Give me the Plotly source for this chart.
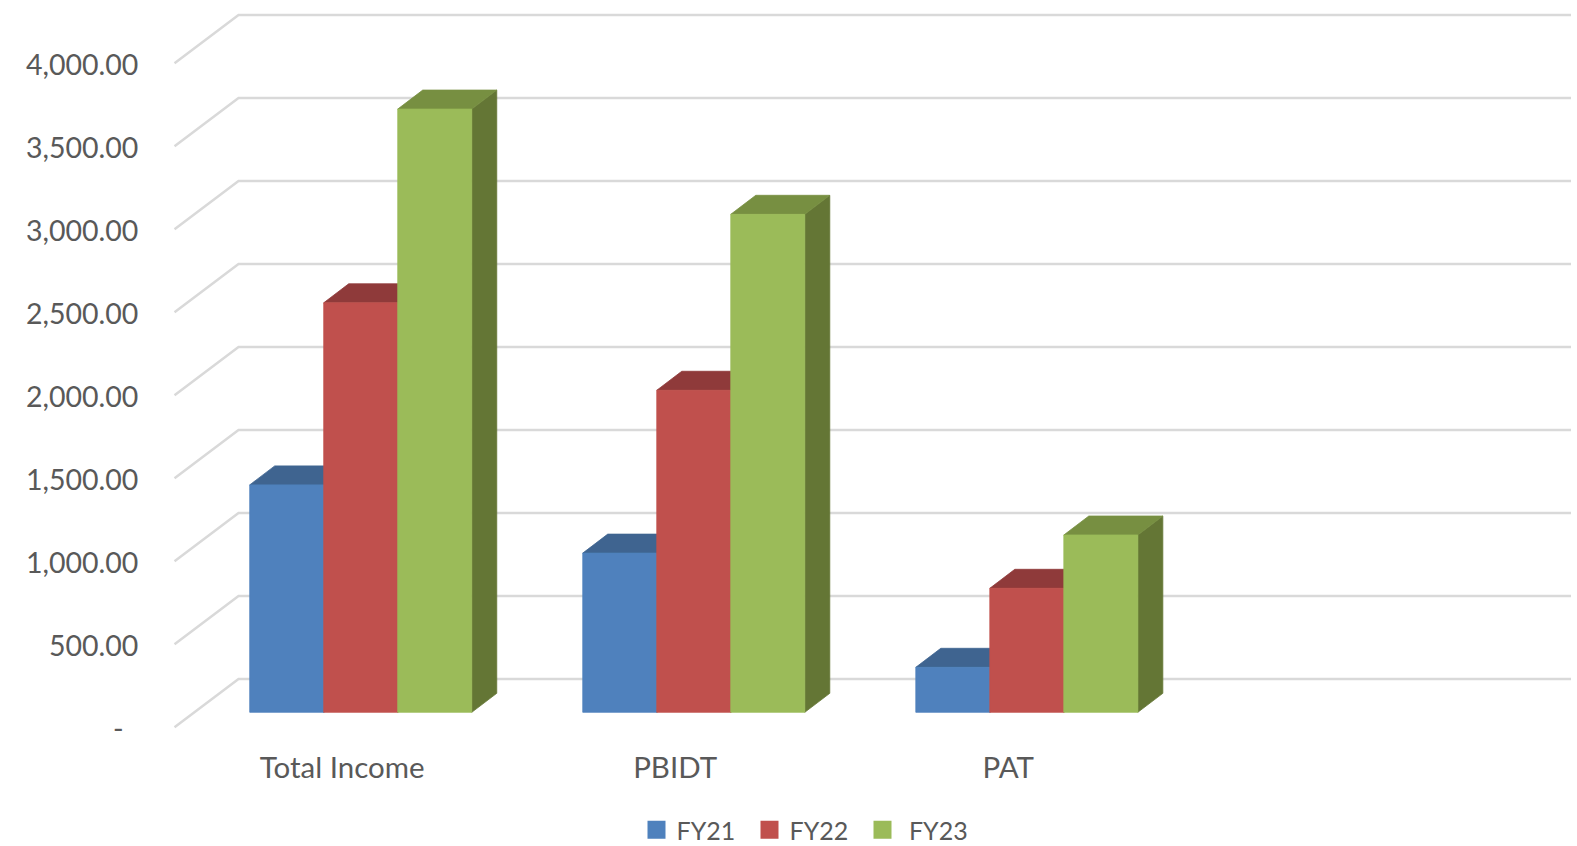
import plotly.graph_objects as go

# Chart data
categories = ["Total Income", "PBIDT", "PAT"]
fy21 = [1370, 959, 271]
fy22 = [2467, 1940, 747]
fy23 = [3634, 3000, 1068]
series_names = ["FY21", "FY22", "\u00a0FY23"]
tick_values = [0, 500, 1000, 1500, 2000, 2500, 3000, 3500, 4000]
tick_labels = ["-\u00a0\u00a0", "500.00", "1,000.00", "1,500.00", "2,000.00",
               "2,500.00", "3,000.00", "3,500.00", "4,000.00"]

# Face colours per series: front, top, right side
front_colors = ["#4F81BD", "#C0504D", "#9BBB59"]
top_colors = ["#3F6490", "#8F3A3A", "#778F41"]
side_colors = ["#3A5A82", "#7F3331", "#647635"]

GRID_COLOR = "#D9D9D9"
TEXT_COLOR = "#595959"
FONT = "Lato"

# Oblique projection: depth is drawn as a shift in x and in value
BAR_WIDTH = 74 / 333
BAR_DEPTH_X = 25 / 333
BAR_DEPTH_Y = 114.5
FLOOR_FRONT_Y = -90.4
WALL_Y = 200.6
FLOOR_LEFT_X = -0.5591
WALL_LEFT_X = -0.367
WALL_RIGHT_X = 3.634
LABEL_SHIFT = -0.056
VALUE_LABEL_DROP = 12

fig = go.Figure()


def add_poly(xs, ys, color):
    fig.add_trace(go.Scatter(
        x=xs, y=ys, mode="lines", fill="toself", fillcolor=color,
        line=dict(color=color, width=0.8), hoverinfo="skip", showlegend=False,
    ))


# Wall and floor gridlines
for v in tick_values:
    fig.add_trace(go.Scatter(
        x=[FLOOR_LEFT_X, WALL_LEFT_X, WALL_RIGHT_X],
        y=[v + FLOOR_FRONT_Y, v + WALL_Y, v + WALL_Y],
        mode="lines", line=dict(color=GRID_COLOR, width=2.5),
        hoverinfo="skip", showlegend=False,
    ))

# Columns, drawn back to front within each group
for s, values in enumerate([fy21, fy22, fy23]):
    for i, v in enumerate(values):
        x0 = i + (s - 1.5) * BAR_WIDTH
        x1 = x0 + BAR_WIDTH
        dx, dy = BAR_DEPTH_X, BAR_DEPTH_Y
        add_poly([x1, x1 + dx, x1 + dx, x1, x1], [0, dy, v + dy, v, 0], side_colors[s])
        add_poly([x0, x0 + dx, x1 + dx, x1, x0], [v, v + dy, v + dy, v, v], top_colors[s])
        add_poly([x0, x1, x1, x0, x0], [0, 0, v, v, 0], front_colors[s])

# Legend entries
for s, name in enumerate(series_names):
    fig.add_trace(go.Scatter(
        x=[None], y=[None], mode="markers", name=name,
        marker=dict(symbol="square", size=16, color=front_colors[s],
                    line=dict(color=front_colors[s], width=2)),
        hoverinfo="skip",
    ))

fig.update_layout(
    width=1577, height=846,
    margin=dict(l=170, r=0, t=5, b=116, autoexpand=False),
    paper_bgcolor="white", plot_bgcolor="white",
    font=dict(family=FONT, color=TEXT_COLOR),
    xaxis=dict(
        range=[-0.5727, 3.652], showgrid=False, zeroline=False, showline=False,
        tickmode="array", tickvals=[i + LABEL_SHIFT for i in range(len(categories))],
        ticktext=categories, ticks="outside", ticklen=12, tickcolor="rgba(0,0,0,0)",
        tickfont=dict(family=FONT, size=29.5, color=TEXT_COLOR),
    ),
    yaxis=dict(
        range=[-106.6, 4261], showgrid=False, zeroline=False, showline=False,
        tickmode="array",
        tickvals=[v + FLOOR_FRONT_Y - VALUE_LABEL_DROP for v in tick_values],
        ticktext=tick_labels, ticks="outside", ticklen=25, tickcolor="rgba(0,0,0,0)",
        tickfont=dict(family=FONT, size=28.5, color=TEXT_COLOR),
    ),
    showlegend=True,
    legend=dict(
        orientation="h", xanchor="left", yanchor="bottom",
        x=(636.5 - 170) / 1407, y=-123 / 725,
        entrywidth=68, entrywidthmode="pixels",
        font=dict(family=FONT, size=25, color=TEXT_COLOR),
        bgcolor="rgba(0,0,0,0)", itemclick=False, itemdoubleclick=False,
    ),
)

fig.write_html("out.html", config=dict(displayModeBar=False))
